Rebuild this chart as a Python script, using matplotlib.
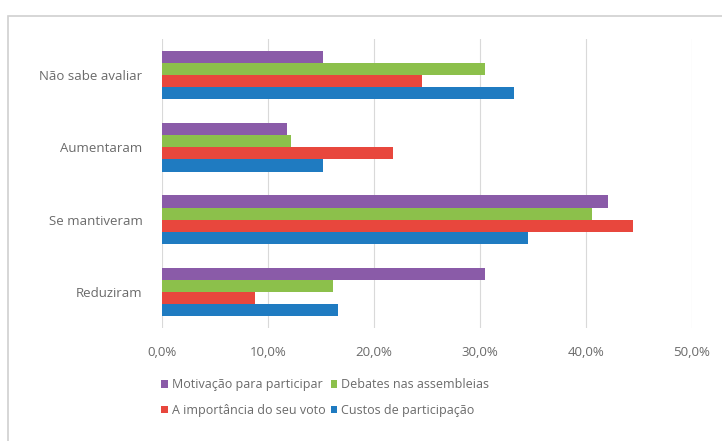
import matplotlib.pyplot as plt
import numpy as np
from matplotlib.patches import Rectangle
from matplotlib.ticker import FuncFormatter

categorias = ["Reduziram", "Se mantiveram", "Aumentaram", "Não sabe avaliar"]
series = ["Custos de participação", "A importância do seu voto",
          "Debates nas assembleias", "Motivação para participar"]
custos = [16.6, 34.5, 15.2, 33.2]
importancia = [8.8, 44.4, 21.8, 24.5]
debates = [16.1, 40.6, 12.2, 30.5]
motivacao = [30.5, 42.1, 11.8, 15.2]
cores = ["#1F7BC1", "#E8473D", "#8CC04B", "#8A5BA8"]

plt.rcParams['font.family'] = ['Open Sans', 'DejaVu Sans']

fig = plt.figure(figsize=(7.22, 4.41), dpi=100)
fig.patches.append(Rectangle((8/722, -0.1), 1.2, 1 - 16/441 + 0.1, transform=fig.transFigure,
                             fill=False, edgecolor='#D0D0D0', linewidth=1.2))
ax = fig.add_axes([162/722, 1 - 328/441, 530/722, 289/441])

y = np.arange(len(categorias))
h = 0.167
valores = [custos, importancia, debates, motivacao]
for i, (nome, vals, cor) in enumerate(zip(series, valores, cores)):
    ax.barh(y + (i - 1.5) * h, vals, height=h, color=cor, label=nome, zorder=3)

ax.set_xlim(0, 50)
ax.set_ylim(-0.5, 3.5)
ax.set_xticks(np.arange(0, 51, 10))
ax.xaxis.set_major_formatter(FuncFormatter(lambda v, p: ("%.1f%%" % v).replace(".", ",")))
ax.set_yticks(y)
ax.set_yticklabels(categorias)
ax.grid(axis='x', color='#D9D9D9', linewidth=0.8, zorder=0)
for s in ax.spines.values():
    s.set_visible(False)
ax.tick_params(length=0, labelsize=9.5, colors='#6A6A6A', pad=13)
ax.tick_params(axis='y', pad=14)

hs, ls = ax.get_legend_handles_labels()
order = [3, 1, 2, 0]
fig.legend([hs[k] for k in order], [ls[k] for k in order], ncol=2, loc='upper left',
           bbox_to_anchor=(150/722, 1 - 367/441), frameon=False, fontsize=9,
           labelcolor='#6A6A6A', handlelength=0.55, handleheight=0.55, handletextpad=0.3,
           columnspacing=0.4, labelspacing=1.0)

fig.savefig("out.png", dpi=100)
